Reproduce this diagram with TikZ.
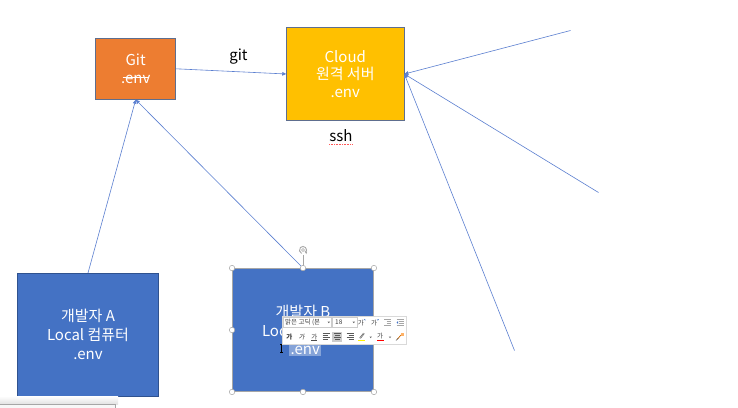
\documentclass[tikz,border=0pt]{standalone}
\usepackage{fontspec}
\setmainfont{Noto Sans CJK KR}
\usetikzlibrary{arrows.meta}
\definecolor{blueA}{HTML}{4472C4}
\definecolor{lineB}{HTML}{5B7FD0}
\definecolor{orangeG}{HTML}{ED7D31}
\definecolor{goldC}{HTML}{FFC000}
\definecolor{edgeB}{HTML}{2F528F}
\definecolor{edgeG}{HTML}{5E6E8E}
\definecolor{uiGray}{HTML}{A6A6A6}
\begin{document}
\begin{tikzpicture}[x=1pt,y=-1pt,
  box/.style={draw=edgeG, line width=0.8pt, text=white, align=center, inner sep=0pt},
  conn/.style={draw=lineB, line width=0.6pt, -{Triangle[length=4pt,width=3.5pt]}},
  lbl/.style={text=black, inner sep=0pt, font=\fontsize{15}{17}\selectfont},
  handle/.style={circle, draw=uiGray, fill=white, line width=0.5pt, minimum size=5.5pt, inner sep=0pt},
  tbtext/.style={inner sep=0pt, text=black!75, font=\fontsize{6.5}{7}\selectfont},
  tbicon/.style={black!65, line width=0.5pt},
]
\useasboundingbox (0,0) rectangle (738,407);
\fill[white] (0,0) rectangle (738,407);

% main boxes
\node[box, fill=orangeG, minimum width=80pt, minimum height=61pt,
      font=\fontsize{15}{17.3}\selectfont] (git) at (135.7,68.8) {Git\\.env};
\draw[white, line width=0.6pt] ([xshift=-13pt,yshift=-8pt]git.center) -- ([xshift=13pt,yshift=-8pt]git.center);
\node[box, fill=goldC, minimum width=117.3pt, minimum height=93.4pt,
      font=\fontsize{15}{17.3}\selectfont] (cloud) at (345.3,74) {Cloud\\원격 서버\\.env};
\node[box, draw=edgeB, fill=blueA, minimum width=141.4pt, minimum height=122.7pt,
      font=\fontsize{15}{19}\selectfont] (boxA) at (88,334.7) {개발자 A\\Local 컴퓨터\\.env};
\node[box, draw=uiGray, line width=0.5pt, fill=blueA, minimum width=141.4pt, minimum height=123.4pt,
      font=\fontsize{15}{19}\selectfont] (boxB) at (303,330) {개발자 B\\Local 컴퓨터\\\phantom{.env}};

% labels
\node[lbl] (gitlbl) at (238.5,56.5) {git};
\node[lbl] (ssh) at (341,136) {ssh};
\draw[red!65, line width=0.4pt, dash pattern=on 0.8pt off 0.8pt]
  ([yshift=-2pt]ssh.south west) -- ([yshift=-2pt]ssh.south east);

% connectors
\coordinate (r1) at (570.5,30.5);
\coordinate (r2) at (598.5,192.5);
\coordinate (r3) at (514.5,350.5);
\draw[conn] (git.east) -- (cloud.west);
\draw[conn] (boxA.north) -- (git.south);
\draw[conn] (boxB.north) -- (git.south);
\draw[conn] (r1) -- (cloud.east);
\draw[conn] (r2) -- (cloud.east);
\draw[conn] (r3) -- (cloud.east);

% selected ".env" in box B
\node[inner sep=1.5pt, fill=white, fill opacity=0.35, text opacity=1, text=white,
      font=\fontsize{15}{19}\selectfont] (envB) at (305.3,350.4) {.env};
\draw[black, line width=0.5pt] (281.7,344) -- (281.7,352.7)
  (280.2,344) -- (283.2,344) (280.2,352.7) -- (283.2,352.7);

% selection handles
\coordinate (rot) at (303,250);
\draw[uiGray, line width=0.6pt] (rot) ++(0,5) -- (boxB.north);
\draw[uiGray, line width=0.9pt] (rot) ++(2.5,2.6) arc[start angle=-45, end angle=250, radius=3.6pt];
\draw[uiGray, line width=0.6pt] (rot) circle[radius=1.5pt];
\draw[uiGray, line width=0.6pt, -{Straight Barb[length=1.5pt]}] (rot) ++(2.5,2.6) -- ++(1.6,-0.8);
\foreach \a in {north west,north,north east,west,east,south west,south,south east}
  \node[handle] at (boxB.\a) {};

% mini toolbar
\node[draw=black!15, fill=white, minimum width=124pt, minimum height=27.5pt, inner sep=0pt] (tb) at (344.5,330.3) {};
\draw[black!20, line width=0.4pt] (283.5,317.6) rectangle (331.3,327.2);
\draw[black!20, line width=0.4pt] (332.6,317.6) rectangle (357,327.2);
\node[tbtext, anchor=west] (fnt) at (285,322.4) {맑은 고딕 (본};
\fill[black!60] (327.5,321.6) -- (330,321.6) -- (328.75,323.2) -- cycle;
\node[tbtext, anchor=west] (sz) at (335,322.4) {18};
\fill[black!60] (352.5,321.6) -- (355,321.6) -- (353.75,323.2) -- cycle;
\node[tbtext] (grow) at (360.8,322.6) {가};
\draw[blueA, line width=0.4pt] (363.7,320.3) -- (364.6,319.2) -- (365.5,320.3);
\node[tbtext] (shrink) at (374,322.6) {가};
\draw[blueA, line width=0.4pt] (376.9,319.2) -- (377.8,320.3) -- (378.7,319.2);
\foreach \x in {387.7,400}{
  \draw[black!35, line width=0.5pt] (\x-3.5,319.5) -- (\x+3.5,319.5) (\x-1,321.5) -- (\x+3.5,321.5)
     (\x-1,323.5) -- (\x+3.5,323.5) (\x-3.5,325.5) -- (\x+3.5,325.5);
}
\fill[blueA] (398,321) -- (396.5,322.5) -- (398,324) -- cycle;
% row 2
\node[tbtext, font=\bfseries\fontsize{6.5}{7}\selectfont] (bold) at (289.3,337) {가};
\node[tbtext] (ital) at (301.7,337) {\fontspec{Noto Sans CJK KR}[FakeSlant=0.2]가};
\node[tbtext] (undl) at (314.3,337) {가};
\draw[black!70, line width=0.35pt] (311.4,340.4) -- (317.2,340.4);
\fill[black!20] (332.3,331.8) rectangle (342.3,341.8);
% align left
\draw[tbicon] (322.5,333.5) -- (329.5,333.5) (322.5,335.5) -- (327.5,335.5)
  (322.5,337.5) -- (329.5,337.5) (322.5,339.5) -- (327.5,339.5);
% align center (selected)
\draw[tbicon] (333.8,333.5) -- (340.8,333.5) (334.8,335.5) -- (339.8,335.5)
  (333.8,337.5) -- (340.8,337.5) (334.8,339.5) -- (339.8,339.5);
% align right
\draw[tbicon] (346.5,333.5) -- (353.5,333.5) (348.5,335.5) -- (353.5,335.5)
  (346.5,337.5) -- (353.5,337.5) (348.5,339.5) -- (353.5,339.5);
% highlighter
\draw[black!60, line width=0.5pt] (359.5,338) -- (363.5,333) (360.5,338.5) -- (364.5,333.5);
\fill[yellow] (358.3,339.6) rectangle (365.2,341.4);
\fill[black!60] (369.5,336.6) -- (371.9,336.6) -- (370.7,338.1) -- cycle;
% font colour
\node[tbtext] (fcol) at (380,336.2) {가};
\fill[red] (376.5,339.6) rectangle (383.5,341.4);
\fill[black!60] (388.8,336.6) -- (391.2,336.6) -- (390,338.1) -- cycle;
% format painter
\draw[orange!80!black, line width=0.7pt] (397,339.5) -- (401.5,334.5);
\fill[orange!60] (400.5,333) rectangle (403.5,336);
\draw[black!60, line width=0.4pt] (396,340.5) -- (398.5,338);

% bottom-left UI panel
\shade[top color=white, bottom color=black!12] (0,396) rectangle (118,404.5);
\fill[black!3] (0,404.5) rectangle (115,408);
\draw[black!35, line width=0.5pt] (0,404.5) -- (115,404.5) -- (115,408);
\end{tikzpicture}
\end{document}
